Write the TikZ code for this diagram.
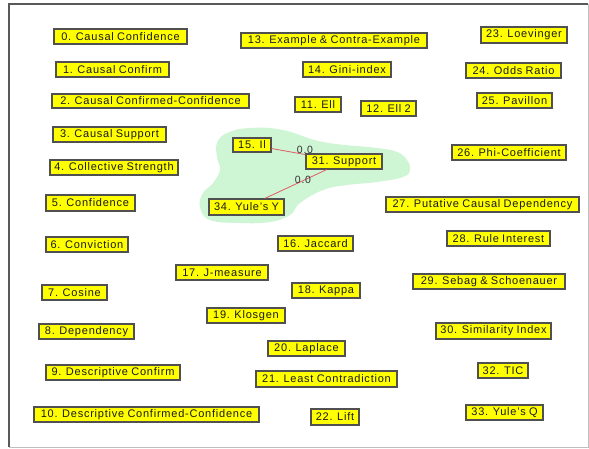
\documentclass[tikz,border=0pt]{standalone}
\usepackage{fontspec}
\setmainfont{Liberation Sans}[LetterSpace=7,WordSpace=0.85]
\definecolor{boxyel}{RGB}{255,255,0}
\definecolor{boxedge}{RGB}{80,80,80}
\definecolor{blobgreen}{RGB}{206,245,212}
\definecolor{edgered}{RGB}{226,90,100}
\tikzset{
  mbox/.style={draw=boxedge, line width=1.2pt, fill=boxyel, inner sep=0pt,
    font=\fontsize{11}{12}\selectfont, text=black!90},
  elab/.style={font=\fontsize{10.5}{11}\selectfont, text=black!80, inner sep=0pt},
  rel/.style={draw=edgered, line width=0.8pt}
}
\newcommand\bx[6]{%
  \node[mbox, minimum width={#4-#2}, minimum height={#5-#3}] (#1) at ({(#2+#4)/2},{(#3+#5)/2}) {#6};}
\begin{document}
\begin{tikzpicture}[x=1pt,y=-1pt]
\useasboundingbox (0,0) rectangle (589,448);
\fill[white] (0,0) rectangle (589,448);
% frame
\draw[black!25, line width=1pt] (588,4) -- (588,447) -- (9,447);
\draw[black!65, line width=1.5pt] (9,447) -- (9,4) -- (588,4);
% green cluster
\fill[blobgreen] plot[smooth cycle, tension=0.7] coordinates {
  (217,143) (227,133) (250,128) (283,130) (323,142) (377,148) (397,152)
  (407,160) (410,170) (403,177) (377,182) (347,185) (323,190) (300,203)
  (290,215) (270,222) (240,223) (210,220) (200,207) (203,193) (213,183)
  (220,170) (217,157)};
% boxes
\bx{n0}{54}{29}{187}{44}{0. Causal Confidence}
\bx{n1}{56}{62}{169}{77}{1. Causal Confirm}
\bx{n2}{52}{94}{249}{108}{2. Causal Confirmed-Confidence}
\bx{n3}{53}{127}{166}{142}{3. Causal Support}
\bx{n4}{50}{160}{178}{175}{4. Collective Strength}
\bx{n5}{46}{195}{135}{211}{5. Confidence}
\bx{n6}{46}{237}{128}{252}{6. Conviction}
\bx{n7}{42}{285}{107}{300}{7. Cosine}
\bx{n8}{39}{324}{134}{339}{8. Dependency}
\bx{n9}{46}{365}{180}{380}{9. Descriptive Confirm}
\bx{n10}{34}{407}{259}{422}{10. Descriptive Confirmed-Confidence}
\bx{n11}{295}{97}{341}{112}{11. Ell}
\bx{n12}{361}{101}{416}{116}{12. Ell 2}
\bx{n13}{241}{33}{427}{48}{13. Example \& Contra-Example}
\bx{n14}{303}{62}{391}{77}{14. Gini-index}
\bx{n15}{233}{138}{271}{152}{15. Il}
\bx{n16}{278}{236}{353}{251}{16. Jaccard}
\bx{n17}{176}{265}{268}{280}{17. J-measure}
\bx{n18}{292}{283}{360}{298}{18. Kappa}
\bx{n19}{207}{308}{285}{323}{19. Klosgen}
\bx{n20}{268}{341}{345}{356}{20. Laplace}
\bx{n21}{256}{371}{397}{387}{21. Least Contradiction}
\bx{n22}{311}{409}{359}{425}{22. Lift}
\bx{n23}{481}{27}{567}{43}{23. Loevinger}
\bx{n24}{466}{63}{561}{78}{24. Odds Ratio}
\bx{n25}{477}{93}{552}{108}{25. Pavillon}
\bx{n26}{452}{145}{566}{160}{26. Phi-Coefficient}
\bx{n27}{386}{197}{579}{212}{27. Putative Causal Dependency}
\bx{n28}{447}{231}{550}{246}{28. Rule Interest}
\bx{n29}{413}{274}{565}{289}{29. Sebag \& Schoenauer}
\bx{n30}{436}{323}{551}{339}{30. Similarity Index}
\bx{n32}{478}{363}{528}{378}{32. TIC}
\bx{n33}{466}{405}{543}{420}{33. Yule's Q}
\bx{n31}{306}{154}{382}{169}{31. Support}
\bx{n34}{209}{199}{284}{215}{34. Yule's Y}
% edges
\draw[rel] (n15) -- (n31);
\draw[rel] (n31) -- (n34);
\node[elab] (l1) at (305,150) {0.0};
\node[elab] (l2) at (303,180) {0.0};
\end{tikzpicture}
\end{document}
